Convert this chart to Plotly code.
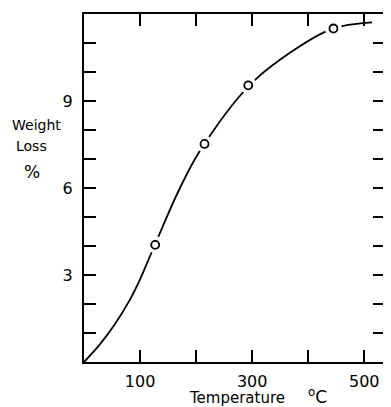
import plotly.graph_objects as go

# Smooth fitted curve
curve_temp = [0, 28, 55, 82, 100, 120, 140, 165, 198, 228, 273, 311, 368, 427, 463, 514]
curve_loss = [0, 0.6, 1.3, 2.15, 2.85, 3.75, 4.65, 5.75, 7.0, 7.9, 9.06, 9.83, 10.67, 11.36, 11.59, 11.71]

# Measured points
point_temp = [127, 215, 293, 445]
point_loss = [4.04, 7.52, 9.54, 11.5]

x_tickvals = [100, 200, 300, 400, 500]
x_ticktext = ["100", " ", "300", " ", "500"]
y_tickvals = [1, 2, 3, 4, 5, 6, 7, 8, 9, 10, 11]
y_ticktext = [" ", " ", "3", " ", " ", "6", " ", " ", "9", " ", " "]

FONT = "DejaVu Sans"
OFF = 8  # page body margin in the browser
W, H = 391 - OFF, 407 - OFF
L, R, T, B = 84 - OFF, 6, 14 - OFF, 45
pw, ph = W - L - R, H - T - B


def px(x):  # page pixel -> paper
    return (x - OFF - L) / pw


def py(y):
    return 1 - (y - OFF - T) / ph


fig = go.Figure()
fig.add_trace(go.Scatter(x=curve_temp, y=curve_loss, mode="lines",
                         line=dict(color="black", width=1.8, shape="spline", smoothing=0.9),
                         hoverinfo="skip", showlegend=False))
# white halo to create gaps in the curve around the points
fig.add_trace(go.Scatter(x=point_temp, y=point_loss, mode="markers",
                         marker=dict(size=17, color="white", line=dict(width=0)),
                         hoverinfo="skip", showlegend=False))
fig.add_trace(go.Scatter(x=point_temp, y=point_loss, mode="markers",
                         marker=dict(symbol="circle-open", size=8, color="black",
                                     line=dict(width=1.8, color="black")),
                         showlegend=False))

axis_common = dict(showline=True, linewidth=2.2, linecolor="black", mirror="ticks",
                   ticks="inside", ticklen=12, tickwidth=2, tickcolor="black",
                   showgrid=False, zeroline=False, automargin=False,
                   tickfont=dict(family=FONT, size=16, color="black"))

fig.update_xaxes(range=[0, 537], tickmode="array", tickvals=x_tickvals, ticktext=x_ticktext,
                 ticklabelstandoff=4, **axis_common)
fig.update_yaxes(range=[0, 12], tickmode="array", tickvals=y_tickvals, ticktext=y_ticktext,
                 ticklabelstandoff=6, **axis_common)


def label(text, x, y, size):
    fig.add_annotation(text=text, x=px(x), y=py(y), xref="paper", yref="paper",
                       xanchor="center", yanchor="middle", showarrow=False,
                       font=dict(family=FONT, size=size, color="black"))


label("Weight", 36, 125, 14)
label("Loss", 31, 146, 14)
label("%", 32, 172, 17)
label("Temperature", 237, 398, 15)
label("<sup>o</sup>C", 317, 396, 17)

fig.update_layout(width=W, height=H, margin=dict(l=L, r=R, t=T, b=B, autoexpand=False),
                  plot_bgcolor="white", paper_bgcolor="white")

fig.write_html("out.html")
